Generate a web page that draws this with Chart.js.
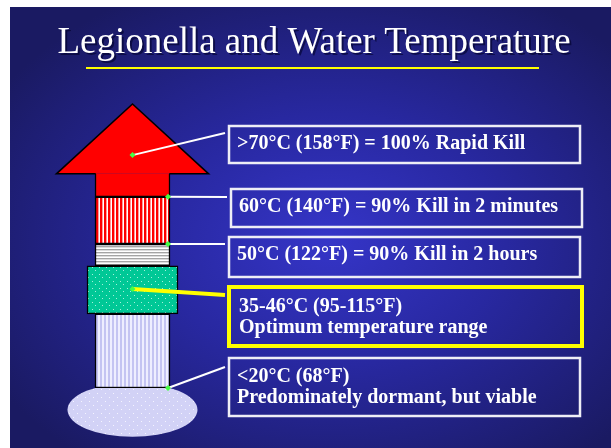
<!DOCTYPE html>
<html>
<head>
<meta charset="utf-8">
<script src="https://cdn.jsdelivr.net/npm/chart.js@4"></script>
<style>
  body { margin: 0; background: #fff; }
  canvas { display: block; }
</style>
</head>
<body>
<canvas id="chart" width="611" height="448"></canvas>
<script>
// Colunna de temperaturas, de baixo para cima (unidades de altura 0..100)
const bandNames = ["<20°C", "35-46°C", "50°C", "60°C", ">70°C"];
const bandLow = [0, 26.1, 43.0, 50.7, 67.3];
const bandHigh = [26.1, 43.0, 50.7, 67.3, 75.4];
const arrowTip = 100;
const poolLevel = -7.7;

// Caixas de texto, de cima para baixo
const calloutLine1 = [
  ">70°C (158°F) = 100% Rapid Kill",
  "60°C (140°F) = 90% Kill in 2 minutes",
  "50°C (122°F) = 90% Kill in 2 hours",
  "35-46°C (95-115°F)",
  "<20°C (68°F)"
];
const calloutLine2 = ["", "", "", "Optimum temperature range", "Predominately dormant, but viable"];
const calloutAnchor = [82, 67.3, 50.7, 34.9, 0];

const titleText = "Legionella and Water Temperature";

// layout das caixas (pixels)
const boxes = [
  { x: 229, y: 126, w: 351, h: 37, tx: 237, ty: [149], lineY: 133, color: "#eeeef6", lw: 2.5 },
  { x: 231, y: 189, w: 351, h: 38, tx: 239, ty: [212], lineY: 197, color: "#eeeef6", lw: 2.5 },
  { x: 229, y: 237, w: 351, h: 40, tx: 237, ty: [260], lineY: 244, color: "#eeeef6", lw: 2.5 },
  { x: 229, y: 287, w: 353, h: 59, tx: 239, ty: [312, 333], lineY: 295, color: "#ffff00", lw: 4 },
  { x: 229, y: 358, w: 351, h: 58, tx: 237, ty: [382, 403], lineY: 367, color: "#eeeef6", lw: 2.5 }
];
const anchorSide = ["center", "right", "right", "center", "right"];

const ctx0 = document.getElementById("chart").getContext("2d");

function makePattern(w, h, draw) {
  const c = document.createElement("canvas");
  c.width = w;
  c.height = h;
  draw(c.getContext("2d"));
  return ctx0.createPattern(c, "repeat");
}

const redStripes = makePattern(4, 4, g => {
  g.fillStyle = "#ff0000"; g.fillRect(0, 0, 4, 4);
  g.fillStyle = "#ff9a9a"; g.fillRect(2, 0, 1, 4);
  g.fillStyle = "#ffffff"; g.fillRect(3, 0, 1, 4);
});
const grayStripes = makePattern(3, 3, g => {
  g.fillStyle = "#ffffff"; g.fillRect(0, 0, 3, 3);
  g.fillStyle = "#a4a4a4"; g.fillRect(0, 0, 3, 1);
  g.fillStyle = "#dcdcdc"; g.fillRect(0, 1, 3, 1);
});
const greenDots = makePattern(7, 7, g => {
  g.fillStyle = "#00c896"; g.fillRect(0, 0, 7, 7);
  g.fillStyle = "#a8f0dc"; g.fillRect(1, 1, 1, 1); g.fillRect(4, 4, 1, 1);
});
const lavStripes = makePattern(4, 4, g => {
  g.fillStyle = "#c4c4f2"; g.fillRect(0, 0, 4, 4);
  g.fillStyle = "#eeeeff"; g.fillRect(2, 0, 2, 4);
});
const lavDots = makePattern(8, 8, g => {
  g.fillStyle = "#d2d2f6"; g.fillRect(0, 0, 8, 8);
  g.fillStyle = "#f4f4ff"; g.fillRect(1, 1, 1, 1); g.fillRect(5, 5, 1, 1);
});

const fills = [lavStripes, greenDots, grayStripes, redStripes, "#ff0000"];
const widths = [75, 91, 75, 75, 75];

const datasets = bandNames.map((name, i) => ({
  label: name,
  data: [[bandLow[i], bandHigh[i]]],
  backgroundColor: fills[i],
  borderColor: "#000",
  borderWidth: 1.5,
  borderSkipped: i === 4 ? "top" : false,
  barThickness: widths[i],
  grouped: false,
  order: i === 1 ? 0 : 1
}));

const slidePlugin = {
  id: "slide",
  beforeDraw(chart) {
    const c = chart.ctx;
    c.save();
    c.fillStyle = "#fff";
    c.fillRect(0, 0, chart.width, chart.height);
    c.beginPath();
    c.rect(10, 7, chart.width - 10, chart.height - 7);
    c.clip();
    c.translate(330, 240);
    c.scale(1, 0.72);
    const grad = c.createRadialGradient(0, 0, 0, 0, 0, 390);
    grad.addColorStop(0, "#3535c8");
    grad.addColorStop(0.45, "#2828a0");
    grad.addColorStop(1, "#1a1a62");
    c.fillStyle = grad;
    c.fillRect(-400, -400, 900, 900);
    c.restore();

    // titulo
    c.save();
    c.font = '37px "Liberation Serif"';
    c.textAlign = "center";
    c.textBaseline = "alphabetic";
    c.fillStyle = "rgba(0,0,40,0.6)";
    c.fillText(titleText, 316, 55);
    c.fillStyle = "#ffffff";
    c.fillText(titleText, 314, 53);
    c.fillStyle = "#ffff00";
    c.fillRect(86, 67, 453, 2);
    c.restore();
  },
  beforeDatasetsDraw(chart) {
    const c = chart.ctx;
    const y = chart.scales.y;
    const bar = chart.getDatasetMeta(0).data[0];
    c.save();
    c.beginPath();
    c.ellipse(bar.x, y.getPixelForValue(poolLevel), 65, 27, 0, 0, Math.PI * 2);
    c.fillStyle = lavDots;
    c.fill();
    c.restore();
  },
  afterDatasetsDraw(chart) {
    const c = chart.ctx;
    const y = chart.scales.y;
    const top = chart.getDatasetMeta(4).data[0];
    const half = top.width / 2;
    const head = half * 2.03;
    const yb = y.getPixelForValue(bandHigh[4]);
    const yt = y.getPixelForValue(arrowTip);
    c.save();
    c.beginPath();
    c.moveTo(top.x - head, yb);
    c.lineTo(top.x, yt);
    c.lineTo(top.x + head, yb);
    c.closePath();
    c.fillStyle = "#ff0000";
    c.fill();
    c.beginPath();
    c.moveTo(top.x - half + 0.75, yb);
    c.lineTo(top.x - head, yb);
    c.lineTo(top.x, yt);
    c.lineTo(top.x + head, yb);
    c.lineTo(top.x + half - 0.75, yb);
    c.strokeStyle = "#000";
    c.lineWidth = 1.5;
    c.lineJoin = "miter";
    c.stroke();
    c.restore();

    // caixas, linhas e pontos
    c.save();
    boxes.forEach((b, i) => {
      const ax = anchorSide[i] === "center" ? top.x : top.x + half - 2;
      const ay = y.getPixelForValue(calloutAnchor[i]);
      c.beginPath();
      c.moveTo(ax, ay);
      c.lineTo(b.x - 4, b.lineY);
      c.strokeStyle = i === 3 ? "#ffff00" : "#ffffff";
      c.lineWidth = i === 3 ? 4 : 2;
      c.stroke();

      c.strokeStyle = b.color;
      c.lineWidth = b.lw;
      c.strokeRect(b.x, b.y, b.w, b.h);

      c.font = 'bold 20px "Liberation Serif"';
      c.fillStyle = "#ffffff";
      c.textAlign = "left";
      c.fillText(calloutLine1[i], b.tx, b.ty[0]);
      if (calloutLine2[i]) c.fillText(calloutLine2[i], b.tx, b.ty[1]);

      c.fillStyle = "#44ff44";
      c.beginPath();
      c.moveTo(ax, ay - 3);
      c.lineTo(ax + 3, ay);
      c.lineTo(ax, ay + 3);
      c.lineTo(ax - 3, ay);
      c.closePath();
      c.fill();
    });
    c.restore();
  }
};

new Chart(ctx0, {
  type: "bar",
  data: { labels: ["coluna"], datasets },
  options: {
    responsive: false,
    animation: false,
    devicePixelRatio: 1,
    layout: { padding: { top: 104, bottom: 60, left: 57, right: 403 } },
    scales: {
      x: { display: false },
      y: { display: false, min: 0, max: 100 }
    },
    plugins: {
      legend: { display: false },
      title: { display: false },
      tooltip: { enabled: false }
    }
  },
  plugins: [slidePlugin]
});
</script>
</body>
</html>
